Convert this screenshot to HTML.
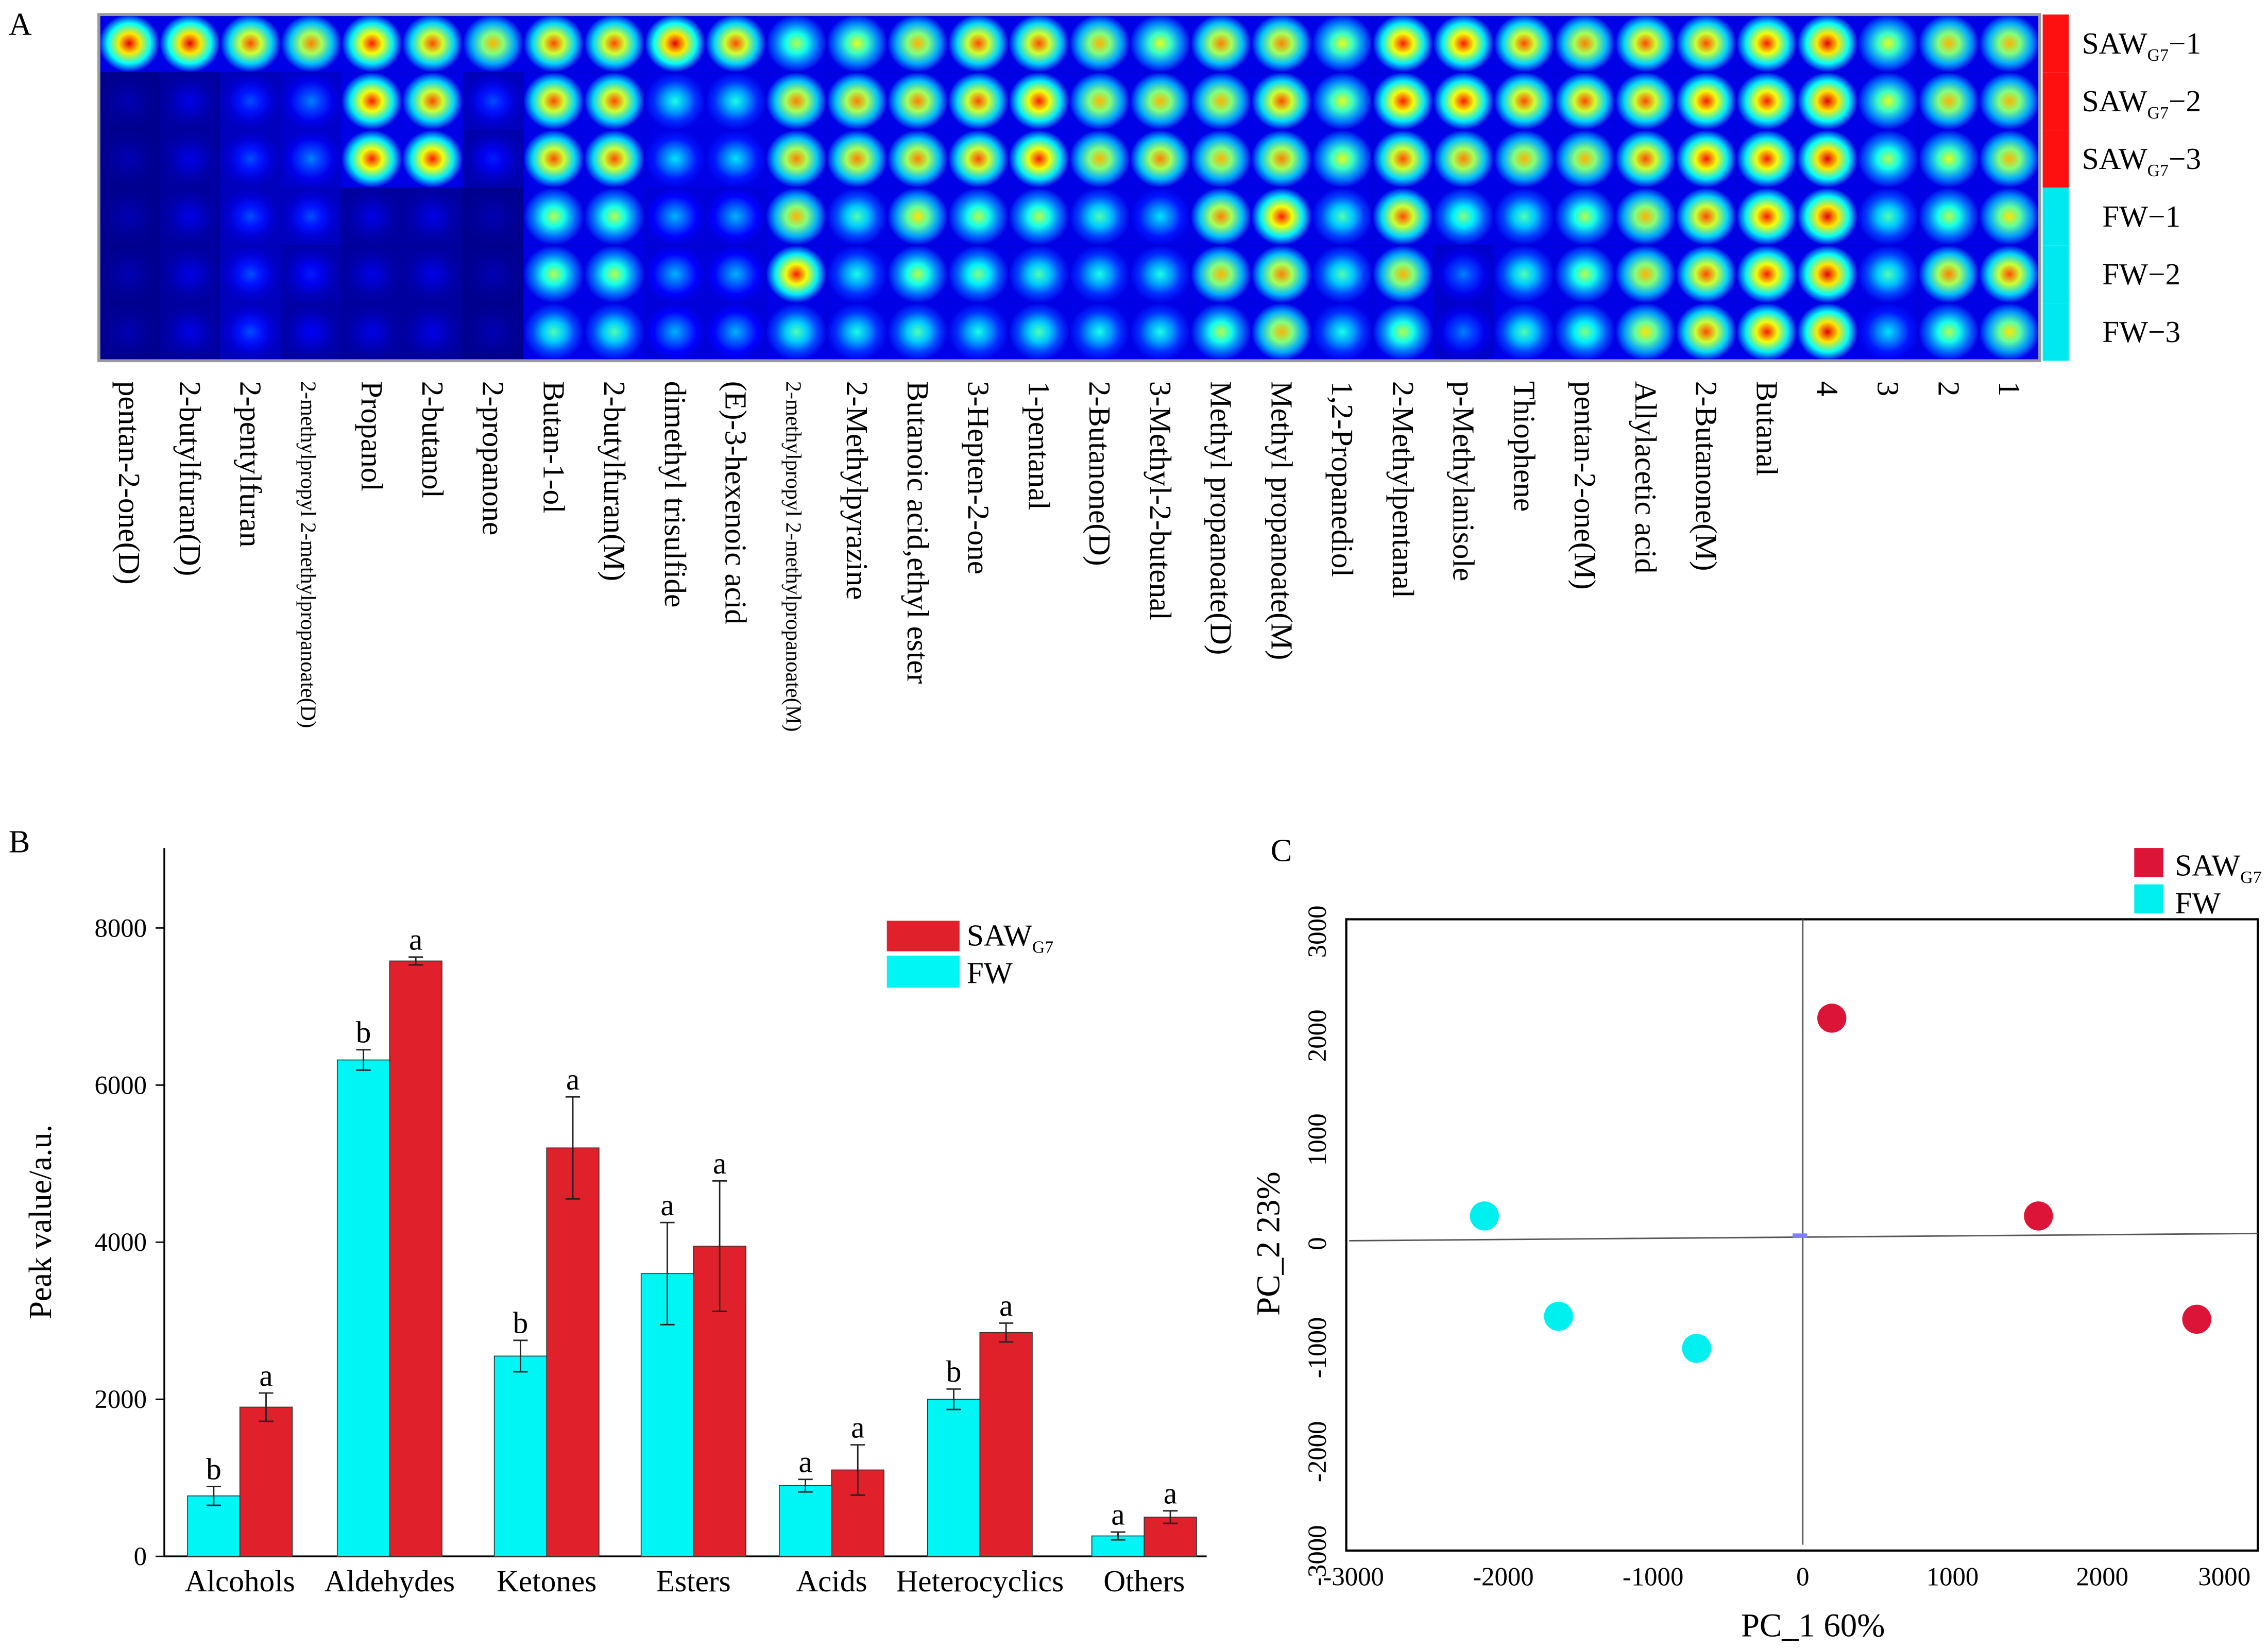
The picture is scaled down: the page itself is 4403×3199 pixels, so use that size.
<!DOCTYPE html>
<html><head><meta charset="utf-8"><style>
html,body{margin:0;padding:0;background:#fff;}
svg{display:block;font-family:"Liberation Serif",serif;}
</style></head><body>
<svg id="fig" width="4403" height="3199" viewBox="0 0 1560 1133" preserveAspectRatio="none" xmlns="http://www.w3.org/2000/svg">
<defs id="defs"></defs>
<rect width="1560" height="1133" fill="#fff"/>
<text x="6" y="24" font-size="22">A</text>
<text x="6" y="586" font-size="22">B</text>
<text x="874" y="592" font-size="22">C</text>
<g id="heat"></g>
<g id="bars"></g>
<g id="pca"></g>
</svg>
<script>
const compounds=["pentan-2-one(D)","2-butylfuran(D)","2-pentylfuran","2-methylpropyl 2-methylpropanoate(D)","Propanol","2-butanol","2-propanone","Butan-1-ol","2-butylfuran(M)","dimethyl trisulfide","(E)-3-hexenoic acid","2-methylpropyl 2-methylpropanoate(M)","2-Methylpyrazine","Butanoic acid,ethyl ester","3-Hepten-2-one","1-pentanal","2-Butanone(D)","3-Methyl-2-butenal","Methyl propanoate(D)","Methyl propanoate(M)","1,2-Propanediol","2-Methylpentanal","p-Methylanisole","Thiophene","pentan-2-one(M)","Allylacetic acid","2-Butanone(M)","Butanal","4","3","2","1"];
const samples=["SAW-1","SAW-2","SAW-3","FW-1","FW-2","FW-3"];
const heatRow1=[0.9,0.9,0.8,0.75,0.85,0.8,0.7,0.8,0.8,0.9,0.8,0.55,0.6,0.7,0.8,0.8,0.7,0.6,0.75,0.75,0.6,0.85,0.85,0.8,0.75,0.8,0.8,0.85,0.9,0.6,0.7,0.7];
const heatRow2=[0.05,0.1,0.2,0.25,0.85,0.8,0.2,0.8,0.8,0.4,0.4,0.75,0.75,0.75,0.8,0.85,0.7,0.7,0.7,0.8,0.6,0.85,0.85,0.8,0.8,0.8,0.85,0.85,0.9,0.6,0.7,0.7];
const heatRow3=[0.05,0.1,0.2,0.25,0.85,0.85,0.15,0.8,0.8,0.35,0.35,0.75,0.75,0.75,0.8,0.85,0.7,0.75,0.7,0.75,0.6,0.8,0.75,0.7,0.7,0.8,0.85,0.85,0.9,0.55,0.6,0.7];
const heatRow4=[0.05,0.1,0.2,0.2,0.1,0.1,0.05,0.55,0.55,0.3,0.3,0.7,0.45,0.65,0.55,0.55,0.45,0.35,0.75,0.85,0.45,0.8,0.5,0.45,0.55,0.7,0.8,0.85,0.9,0.45,0.55,0.65];
const heatRow5=[0.05,0.1,0.2,0.15,0.1,0.1,0.05,0.55,0.55,0.3,0.3,0.85,0.4,0.55,0.5,0.45,0.4,0.4,0.7,0.75,0.45,0.7,0.25,0.45,0.55,0.7,0.8,0.85,0.9,0.45,0.75,0.8];
const heatRow6=[0.05,0.1,0.2,0.12,0.1,0.1,0.05,0.45,0.45,0.3,0.3,0.45,0.4,0.45,0.4,0.45,0.4,0.4,0.55,0.7,0.4,0.55,0.25,0.45,0.5,0.65,0.8,0.85,0.9,0.35,0.55,0.65];
const heatRows=[heatRow1,heatRow2,heatRow3,heatRow4,heatRow5,heatRow6];

const categories=["Alcohols","Aldehydes","Ketones","Esters","Acids","Heterocyclics","Others"];
const fwValues=[770,6320,2550,3600,900,2000,260];
const sawValues=[1900,7580,5200,3950,1100,2850,500];
const fwErrors=[120,130,200,650,80,130,50];
const sawErrors=[180,50,650,830,320,120,80];
const fwLetters=["b","b","b","a","a","b","a"];
const sawLetters=["a","a","a","a","a","a","a"];
const yTicks=[0,2000,4000,6000,8000];

const sawPC1=[194,1574,2631];
const sawPC2=[2168,266,-727];
const fwPC1=[-2126,-1631,-709];
const fwPC2=[266,-699,-1007];
const pcXTicks=[-3000,-2000,-1000,0,1000,2000,3000];
const pcYTicks=[-3000,-2000,-1000,0,1000,2000,3000];

const NS="http://www.w3.org/2000/svg";
function mk(tag,attrs,parent){const e=document.createElementNS(NS,tag);for(const k in attrs)e.setAttribute(k,attrs[k]);parent.appendChild(e);return e;}
function cl(v){return Math.max(0,Math.min(1,v));}
function jet(v){const r=cl(1.5-Math.abs(4*v-3)),g=cl(1.5-Math.abs(4*v-2)),b=cl(1.5-Math.abs(4*v-1));return `rgb(${Math.round(r*255)},${Math.round(g*255)},${Math.round(b*255)})`;}

// ---- Heatmap
const heat=document.getElementById('heat'),defs=document.getElementById('defs');
const hx0=68,hx1=1403,hy0=10,hy1=248;
const cw=(hx1-hx0)/compounds.length,ch=(hy1-hy0)/samples.length;
mk('rect',{x:hx0,y:hy0,width:hx1-hx0,height:hy1-hy0,fill:'#000040'},heat);
heatRows.forEach((row,ri)=>{row.forEach((v,ci)=>{
  const id='g'+ri+'_'+ci;
  const gr=mk('radialGradient',{id:id},defs);
  mk('stop',{offset:'0%','stop-color':jet(v)},gr);
  mk('stop',{offset:'35%','stop-color':jet(v*0.72)},gr);
  mk('stop',{offset:'70%','stop-color':jet(v*0.42)},gr);
  mk('stop',{offset:'100%','stop-color':jet(Math.min(0.1,v*0.3))},gr);
  const c=mk('rect',{x:hx0+ci*cw,y:hy0+ri*ch,width:cw,height:ch,fill:`url(#${id})`},heat);
  
  
});});
mk('rect',{x:hx0,y:hy0,width:hx1-hx0,height:hy1-hy0,fill:'none',stroke:'#999',"stroke-width":2},heat);
compounds.forEach((n,i)=>{
  const x=hx0+(i+0.5)*cw-7;
  const small=n.length>30;
  const t=mk('text',{x:0,y:0,transform:`translate(${x},262) rotate(90)`,'font-size':small?15:21},heat);
  t.textContent=n;
  
  
});
samples.forEach((s,i)=>{
  const y=hy0+i*ch;
  mk('rect',{x:1405,y:y,width:18,height:ch,fill:i<3?'#ff1010':'#00e8f0'},heat);
  const parts=s.split('-');
  const t=mk('text',{x:i<3?1432:1446,y:y+ch/2+7,'font-size':21},heat);
  
  
  if(i<3){t.innerHTML=`SAW<tspan font-size="12" dy="5">G7</tspan><tspan dy="-5">−${parts[1]}</tspan>`;}
  else t.textContent=`FW−${parts[1]}`;
});

// ---- Bar chart
const bars=document.getElementById('bars');
const bx0=113,bx1=830,by0=1070,byTop=583;
const ys=v=>by0-v*(432/8000);
const catX=[165,268,376,477,572,674,787];
const bw=36;
mk('line',{x1:bx0,y1:byTop,x2:bx0,y2:by0,stroke:'#000','stroke-width':1.2},bars);
mk('line',{x1:bx0,y1:by0,x2:bx1,y2:by0,stroke:'#000','stroke-width':1.2},bars);
yTicks.forEach(v=>{
  mk('line',{x1:bx0-6,y1:ys(v),x2:bx0,y2:ys(v),stroke:'#000'},bars);
  const t=mk('text',{x:bx0-12,y:ys(v)+6,'text-anchor':'end','font-size':18},bars);t.textContent=v;
  
  
});
const yt=mk('text',{x:0,y:0,transform:'translate(35,840) rotate(-90)','text-anchor':'middle','font-size':22},bars);
yt.textContent='Peak value/a.u.';


function bar(x,v,err,letter,color,name){
  const r=mk('rect',{x:x,y:ys(v),width:bw,height:by0-ys(v),fill:color,stroke:'#333','stroke-width':0.6},bars);
  
  
  const cx=x+bw/2;
  mk('line',{x1:cx,y1:ys(v+err),x2:cx,y2:ys(v-err),stroke:'#222','stroke-width':1},bars);
  mk('line',{x1:cx-5,y1:ys(v+err),x2:cx+5,y2:ys(v+err),stroke:'#222','stroke-width':1},bars);
  mk('line',{x1:cx-5,y1:ys(v-err),x2:cx+5,y2:ys(v-err),stroke:'#222','stroke-width':1},bars);
  const t=mk('text',{x:cx,y:ys(v+err)-5,'text-anchor':'middle','font-size':21},bars);t.textContent=letter;
  
  
}
categories.forEach((c,i)=>{
  bar(catX[i]-bw,fwValues[i],fwErrors[i],fwLetters[i],'#00f5f5','bar-fw');
  bar(catX[i],sawValues[i],sawErrors[i],sawLetters[i],'#e0202a','bar-saw');
  const t=mk('text',{x:catX[i],y:1094,'text-anchor':'middle','font-size':21},bars);t.textContent=c;
  
  
});
mk('rect',{x:610,y:633,width:50,height:21,fill:'#e0202a'},bars);
mk('rect',{x:610,y:657,width:50,height:22,fill:'#00f5f5'},bars);
let lt=mk('text',{x:665,y:650,'font-size':21},bars);lt.innerHTML='SAW<tspan font-size="12" dy="5">G7</tspan>';


lt=mk('text',{x:665,y:676,'font-size':21},bars);lt.textContent='FW';



// ---- PCA
const pca=document.getElementById('pca');
const px0=926,px1=1553,py0=632,py1=1066;
const sx=v=>1240+v*0.103, sy=v=>855-v*0.0715;
mk('rect',{x:px0,y:py0,width:px1-px0,height:py1-py0,fill:'none',stroke:'#000','stroke-width':1.5},pca);
mk('line',{x1:1240,y1:py0,x2:1240,y2:1062,stroke:'#555','stroke-width':1},pca);
mk('line',{x1:928,y1:853,x2:1553,y2:848,stroke:'#555','stroke-width':1},pca);
mk('rect',{x:1233,y:848,width:10,height:3,fill:'#8080ff'},pca);
pcXTicks.forEach(v=>{
  const x=v===3000?1530:sx(v);
  const t=mk('text',{x:x,y:1090,'text-anchor':'middle','font-size':18},pca);t.textContent=v;
  
  
});
pcYTicks.forEach(v=>{
  const t=mk('text',{x:0,y:0,transform:`translate(912,${sy(v)}) rotate(-90)`,'text-anchor':'middle','font-size':18},pca);t.textContent=v;
  
  
});
let tt=mk('text',{x:1247,y:1125,'text-anchor':'middle','font-size':23},pca);tt.textContent='PC_1 60%';


tt=mk('text',{x:0,y:0,transform:'translate(880,855) rotate(-90)','text-anchor':'middle','font-size':23},pca);tt.textContent='PC_2 23%';


sawPC1.forEach((v,i)=>{const c=mk('circle',{cx:sx(v),cy:sy(sawPC2[i]),r:10,fill:'#dc1438'},pca);
  
  });
fwPC1.forEach((v,i)=>{const c=mk('circle',{cx:sx(v),cy:sy(fwPC2[i]),r:10,fill:'#00f0f0'},pca);
  
  });
mk('rect',{x:1468,y:583,width:20,height:20,fill:'#dc1438'},pca);
mk('rect',{x:1468,y:608,width:20,height:20,fill:'#00f0f0'},pca);
lt=mk('text',{x:1496,y:602,'font-size':21},pca);lt.innerHTML='SAW<tspan font-size="12" dy="5">G7</tspan>';


lt=mk('text',{x:1496,y:628,'font-size':21},pca);lt.textContent='FW';


</script>
</body></html>
